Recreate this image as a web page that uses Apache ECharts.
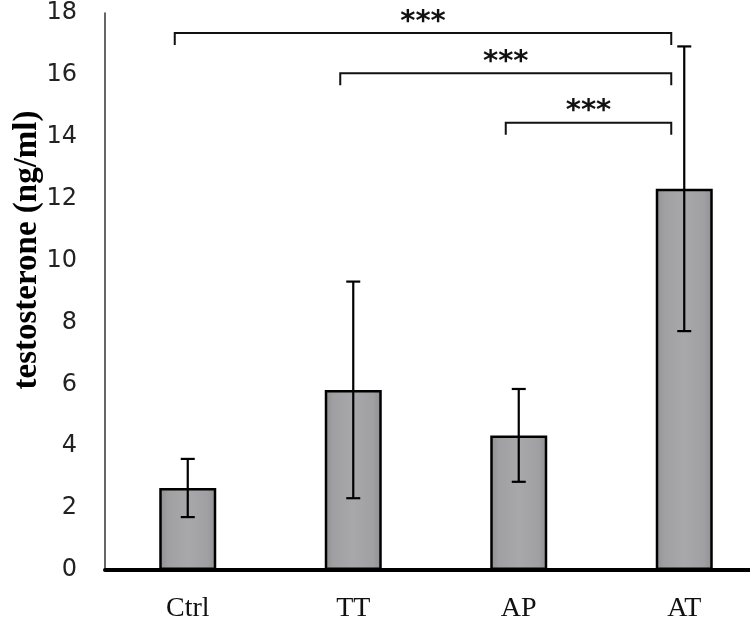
<!DOCTYPE html>
<html>
<head>
<meta charset="utf-8">
<script src="https://cdn.jsdelivr.net/npm/echarts@6/dist/echarts.min.js"></script>
<style>html,body{margin:0;padding:0;background:#fff}#c{width:750px;height:620px}</style>
</head>
<body>
<div id="c"></div>
<script>
var categories = ['Ctrl', 'TT', 'AP', 'AT'];
var means = [2.65, 5.82, 4.35, 12.32];
var errors = [0.94, 3.5, 1.5, 4.6];
var yTicks = [0, 2, 4, 6, 8, 10, 12, 14, 16, 18];
var yAxisTitle = 'testosterone (ng/ml)';
// significance brackets: [fromIndex, toIndex, level, label]
var bracketFrom = [0, 1, 2];
var bracketTo = [3, 3, 3];
var bracketLevel = [17.35, 16.05, 14.45];
var bracketLabel = ['***', '***', '***'];

var chart = echarts.init(document.getElementById('c'));

var errData = categories.map(function (c, i) { return [i, means[i] - errors[i], means[i] + errors[i]]; });
var brData = bracketFrom.map(function (f, i) { return [f, bracketTo[i], bracketLevel[i], bracketLabel[i]]; });

chart.setOption({
  animation: false,
  backgroundColor: '#fff',
  grid: { left: 105, width: 662, top: 13, bottom: 50, outerBoundsMode: 'none', containLabel: false },
  xAxis: {
    type: 'category',
    data: categories,
    axisLine: { lineStyle: { color: '#000', width: 4 } },
    axisTick: { show: false },
    axisLabel: { fontFamily: 'Liberation Serif', fontSize: 28, color: '#111', margin: 25 }
  },
  yAxis: {
    type: 'value',
    min: yTicks[0],
    max: yTicks[yTicks.length - 1],
    interval: 2,
    axisLine: { show: true, lineStyle: { color: '#333', width: 1.5 } },
    axisTick: { show: false },
    splitLine: { show: false },
    axisLabel: { fontFamily: 'DejaVu Sans', fontSize: 24, color: '#222', margin: 28 }
  },
  graphic: [{
    type: 'text',
    x: 27, y: 250,
    rotation: Math.PI / 2,
    style: {
      text: yAxisTitle,
      fontFamily: 'Liberation Serif',
      fontWeight: 'bold',
      fontSize: 33,
      fill: '#000',
      align: 'center',
      verticalAlign: 'middle'
    }
  }],
  series: [
    {
      type: 'bar',
      data: means,
      barWidth: 57,
      itemStyle: {
        color: new echarts.graphic.LinearGradient(0, 0, 1, 0, [
          { offset: 0, color: '#8f8f91' },
          { offset: 0.15, color: '#a0a0a2' },
          { offset: 0.5, color: '#a8a8aa' },
          { offset: 0.85, color: '#a0a0a2' },
          { offset: 1, color: '#8f8f91' }
        ]),
        borderColor: '#000',
        borderWidth: 2.5
      },
      z: 2
    },
    {
      type: 'custom',
      data: errData,
      z: 5,
      renderItem: function (params, api) {
        var x = api.value(0);
        var lo = api.coord([x, api.value(1)]);
        var hi = api.coord([x, api.value(2)]);
        var hw = 7;
        var st = { stroke: '#000', lineWidth: 2.2 };
        return {
          type: 'group',
          children: [
            { type: 'line', shape: { x1: lo[0], y1: lo[1], x2: hi[0], y2: hi[1] }, style: st },
            { type: 'line', shape: { x1: lo[0] - hw, y1: lo[1], x2: lo[0] + hw, y2: lo[1] }, style: st },
            { type: 'line', shape: { x1: hi[0] - hw, y1: hi[1], x2: hi[0] + hw, y2: hi[1] }, style: st }
          ]
        };
      }
    },
    {
      type: 'custom',
      data: brData,
      z: 5,
      renderItem: function (params, api) {
        var a = api.coord([api.value(0), api.value(2)]);
        var b = api.coord([api.value(1), api.value(2)]);
        var drop = 12;
        var off = 13;
        var x1 = a[0] - off, x2 = b[0] - off, y = a[1];
        var st = { stroke: '#111', lineWidth: 2, fill: null };
        return {
          type: 'group',
          children: [
            { type: 'polyline', shape: { points: [[x1, y + drop], [x1, y], [x2, y], [x2, y + drop]] }, style: st },
            { type: 'text', x: (x1 + x2) / 2, y: y - 11, style: { text: api.value(3), fontFamily: 'DejaVu Sans', fontWeight: 'bold', fontSize: 29, fill: '#111', align: 'center', verticalAlign: 'middle' } }
          ]
        };
      }
    }
  ]
});
</script>
</body>
</html>
